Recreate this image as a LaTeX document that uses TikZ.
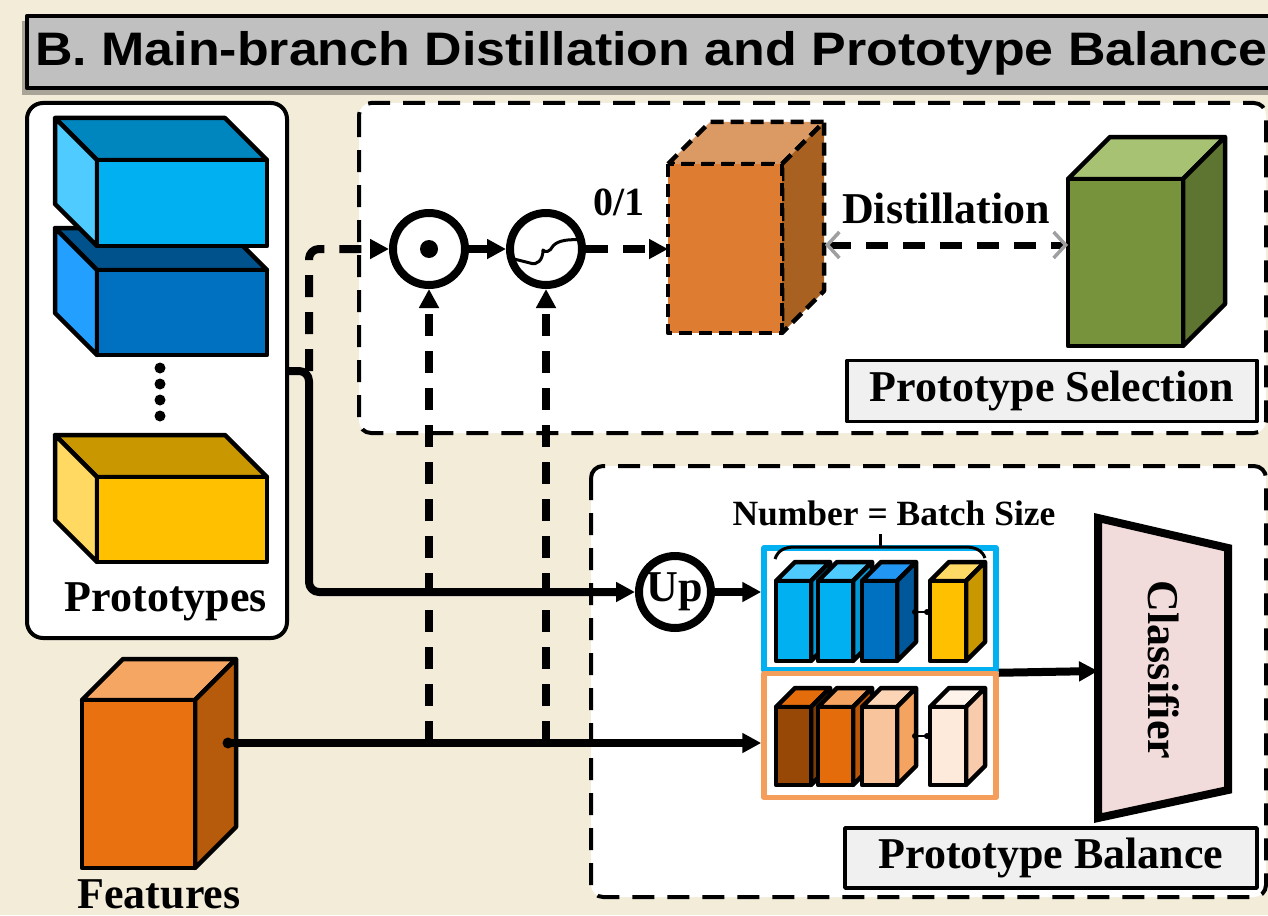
\documentclass[tikz,border=0pt]{standalone}
\usepackage{fontspec}
\setmainfont{Liberation Serif}
\newfontfamily\headfont{Liberation Sans}
\usetikzlibrary{arrows.meta}

\definecolor{cream}{HTML}{F2ECD9}
\definecolor{titlegray}{HTML}{C0C0C0}
\definecolor{labelgray}{HTML}{F0F0F0}
\definecolor{skyline}{HTML}{00B0F0}
\definecolor{peachline}{HTML}{F59E5B}
\definecolor{clspink}{HTML}{F2DCDB}

% front rectangle (#2,#3)-(#4,#5), depth #6 towards the upper right; colours front/top/side in HTML
\newcommand\cubeR[9][]{%
  \definecolor{cubefront}{HTML}{#7}\definecolor{cubetop}{HTML}{#8}\definecolor{cubeside}{HTML}{#9}%
  \filldraw[cubeedge,#1,fill=cubetop] (#2,#3) -- ({#2+#6},{#3-#6}) -- ({#4+#6},{#3-#6}) -- (#4,#3) -- cycle;
  \filldraw[cubeedge,#1,fill=cubeside] (#4,#3) -- ({#4+#6},{#3-#6}) -- ({#4+#6},{#5-#6}) -- (#4,#5) -- cycle;
  \filldraw[cubeedge,#1,fill=cubefront] (#2,#3) rectangle (#4,#5);}
% front rectangle (#2,#3)-(#4,#5), depth #6 towards the upper left
\newcommand\cubeL[9][]{%
  \definecolor{cubefront}{HTML}{#7}\definecolor{cubetop}{HTML}{#8}\definecolor{cubeside}{HTML}{#9}%
  \filldraw[cubeedge,#1,fill=cubetop] (#2,#3) -- ({#2-#6},{#3-#6}) -- ({#4-#6},{#3-#6}) -- (#4,#3) -- cycle;
  \filldraw[cubeedge,#1,fill=cubeside] (#2,#3) -- ({#2-#6},{#3-#6}) -- ({#2-#6},{#5-#6}) -- (#2,#5) -- cycle;
  \filldraw[cubeedge,#1,fill=cubefront] (#2,#3) rectangle (#4,#5);}

\begin{document}
\begin{tikzpicture}[x=1pt,y=-1pt,line join=round,
  cubeedge/.style={draw=black,line width=4.5pt},
  region/.style={draw=black,line width=4pt,dash pattern=on 22pt off 13pt,fill=white,rounded corners=12pt},
  conn/.style={draw=black,line width=8pt},
  dconn/.style={draw=black,line width=8pt,dash pattern=on 22pt off 15pt},
  tip/.tip={Triangle[length=19pt,width=19pt]},
  opcirc/.style={circle,draw=black,line width=8pt,fill=white,inner sep=0pt,minimum size=72pt},
  lbl/.style={font=\bfseries\fontsize{44}{44}\selectfont,inner sep=0pt},
  labelbox/.style={draw=black,line width=3.5pt,fill=labelgray,inner sep=0pt,
    font=\bfseries\fontsize{44}{44}\selectfont},
  batchbox/.style={line width=5.5pt,fill=white,inner sep=0pt,minimum width=232pt}]

\path[clip] (0,0) rectangle (1268,915);
\fill[cream] (0,0) rectangle (1268,915);

% heading bar
\fill[black,opacity=0.3] (22,21) rectangle (1300,95);
\draw[line width=4.5pt,fill=titlegray] (27,16) rectangle (1300,88);
\node[anchor=base west,inner sep=0pt,xscale=1.105,
  font=\headfont\bfseries\fontsize{47}{47}\selectfont] (title) at (35,66)
  {B. Main-branch Distillation and Prototype Balance};

% dashed regions
\draw[region] (359,103) rectangle (1266,433);
\draw[region] (591,466) rectangle (1266,897);

% prototypes panel
\draw[line width=4pt,fill=white,rounded corners=16pt] (27,103) rectangle (287,638);
\cubeL{97}{270}{267}{355}{42}{0070C0}{00528C}{229FFF}
\cubeL{97}{160}{267}{246}{42}{00B0F0}{0086BF}{4FCBFF}
\foreach \yy in {368,384,400,416} \fill (160,\yy) circle (5.5);
\cubeL{97}{477}{267}{562}{42}{FFC000}{C99700}{FFD961}
\node[lbl,anchor=base] (ptext) at (166,611) {Prototypes};

% features
\cubeR{82}{700}{195}{868}{41}{E97110}{F6A663}{B65A0C}
\node[lbl,anchor=base] (ftext) at (159,908) {Features};

% operators
\node[opcirc] (c1) at (429,249) {};
\fill (c1) circle (9);
\node[opcirc] (c2) at (546,249) {};
\draw[line width=3pt] (510,258) -- (530,263) .. controls (537,266) and (543,260) .. (543,250)
  .. controls (545,253) and (550,252) .. (553,246) .. controls (558,240) and (570,239) .. (582,240);
\node[opcirc,font=\bfseries\fontsize{44}{44}\selectfont] (up) at (675,592) {Up};

% named anchors of the connectors
\coordinate (pexit) at (287,371);
\coordinate (pbranch) at (309,371);
\coordinate (fexit) at (228,743);
\coordinate (oin) at (668,249);
\coordinate (oout) at (825,245);
\coordinate (gin) at (1068,245);
\coordinate (clfin) at (1098,671);

% batch boxes
\node[batchbox,draw=skyline,minimum height=122pt] (bbox) at (880,609) {};
\node[batchbox,draw=peachline,minimum height=124pt] (obox) at (880,735.5) {};

% connectors
\draw[conn,rounded corners=10pt,-tip] (pexit) -- (pbranch) |- (up.west);
\draw[dconn,rounded corners=10pt,-tip] (pbranch) |- (c1.west);
\draw[conn,-tip] (fexit) -- (fexit -| obox.west);
\fill (fexit) circle (5.5);
\draw[dconn,-tip] (c1 |- fexit) -- (c1.south);
\draw[dconn,-tip] (c2 |- fexit) -- (c2.south);
\draw[conn,-tip] (c1.east) -- (c2.west);
\draw[dconn,-tip] (c2.east) -- (oin);
\node[lbl,anchor=base,font=\bfseries\fontsize{40}{40}\selectfont] (zo) at (619,215) {0/1};
\draw[conn,-tip] (up.east) -- (up.east -| bbox.west);
\draw[conn,-tip] (bbox.south east) -- (clfin);

% selected prototype and its distillation target
\cubeR[dash pattern=on 13pt off 7pt]{668}{164}{782}{333}{42}{DE7D31}{DB9A63}{A86120}
\cubeR{1068}{179}{1183}{346}{42}{77933C}{A8C274}{5E7431}
\draw[dconn,line width=7pt,
  {Straight Barb[length=12pt,width=26pt,line width=3.5pt,color=gray!75]}-{Straight Barb[length=12pt,width=26pt,line width=3.5pt,color=gray!75]}]
  (oout) -- (gin);
\node[lbl,anchor=base] (dtext) at (946,223) {Distillation};
\node[labelbox,minimum width=410pt,minimum height=61pt] (selbox) at (1052,391) {Prototype Selection};

% batch of prototypes
\cubeR{776}{581}{811}{661}{19}{00B0F0}{4FCAFF}{0098D6}
\cubeR{818}{581}{853}{661}{19}{00B0F0}{4FCAFF}{0098D6}
\cubeR{862}{581}{897}{661}{19}{0070C0}{2196F3}{00589A}
\cubeR{930}{581}{966}{661}{19}{FFC000}{FFD966}{C99700}
\draw[line width=2.5pt] (914,612) -- (929,612);
\fill (915,612) circle (3) (927,612) circle (3);
% batch of features
\cubeR{776}{707}{811}{785}{19}{974806}{E46C0A}{7A3A05}
\cubeR{818}{707}{853}{785}{19}{E46C0A}{F4A460}{B85508}
\cubeR{862}{707}{897}{785}{19}{F8C49C}{FBD5B5}{F4A460}
\cubeR{930}{707}{966}{785}{19}{FDEADA}{FEF4EC}{F8CBAD}
\draw[line width=2.5pt] (914,736) -- (929,736);
\fill (915,736) circle (3) (927,736) circle (3);

% brace over the batch
\draw[line width=3pt] (775,559) .. controls (778,550) and (785,547) .. (795,547) -- (965,547)
  .. controls (975,547) and (982,550) .. (985,558);
\draw[line width=3pt] (880,547) -- (880,534);
\node[lbl,anchor=base,font=\bfseries\fontsize{35.5}{35.5}\selectfont] (ntext) at (894,525) {Number = Batch Size};

% classifier
\draw[line width=8pt,line join=miter,fill=clspink] (1098,518) -- (1228,548) -- (1228,790) -- (1098,818) -- cycle;
\node[lbl,rotate=-90] (clf) at (1164,670) {Classifier};

\node[labelbox,minimum width=412pt,minimum height=60pt] (balbox) at (1051,858) {Prototype Balance};
\end{tikzpicture}
\end{document}
